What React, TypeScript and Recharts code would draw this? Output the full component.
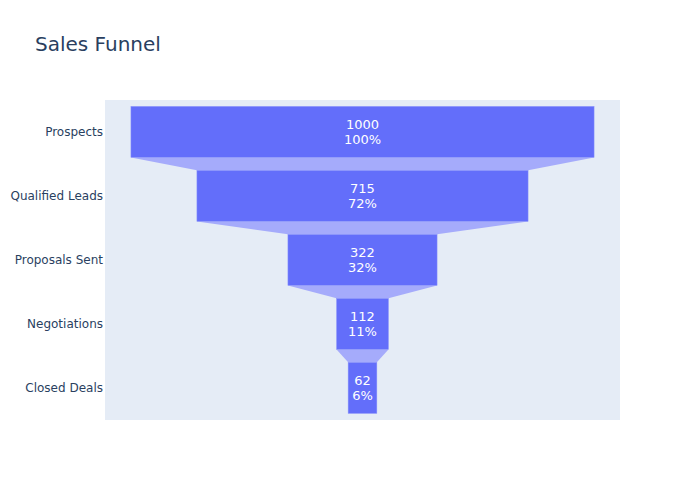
import { BarChart, Bar, XAxis, YAxis, CartesianGrid, LabelList } from 'recharts'

const stages = ['Prospects', 'Qualified Leads', 'Proposals Sent', 'Negotiations', 'Closed Deals']
const counts = [1000, 715, 322, 112, 62]

const data = stages.map((stage, i) => ({
  stage,
  value: counts[i],
  range: [-counts[i] / 2, counts[i] / 2],
  pct: Math.round((counts[i] / counts[0]) * 100) + '%',
}))

const FONT = '"DejaVu Sans", Verdana, sans-serif'

function FunnelBar(props: any) {
  const { x, y, width, height, index } = props
  const next = data[index + 1]
  let connector = null
  if (next) {
    const cur = data[index].value
    const cx = x + width / 2
    const nw = (width * next.value) / cur
    const gap = height / 4
    const top = y + height
    const pts = [
      [x, top],
      [x + width, top],
      [cx + nw / 2, top + gap],
      [cx - nw / 2, top + gap],
    ]
    connector = <polygon points={pts.map((p) => p.join(',')).join(' ')} fill="#a5abfb" />
  }
  return (
    <g>
      {connector}
      <rect x={x} y={y} width={width} height={height} fill="#636efa" stroke="#8b93fb" strokeWidth={0.5} />
    </g>
  )
}

function FunnelLabel(props: any) {
  const { x, y, width, height, index } = props
  const cx = x + width / 2
  const cy = y + height / 2
  return (
    <g>
      <text x={cx} y={cy - 3} textAnchor="middle" fill="#ffffff" fontSize={13} fontFamily={FONT}>
        {data[index].value}
      </text>
      <text x={cx} y={cy + 12} textAnchor="middle" fill="#ffffff" fontSize={13} fontFamily={FONT}>
        {data[index].pct}
      </text>
    </g>
  )
}

export default function App() {
  return (
    <div style={{ position: 'absolute', left: 0, top: 0, width: 700, height: 500, background: '#fff' }}>
      <svg width={700} height={500} style={{ position: 'absolute', left: 0, top: 0 }}>
        <text x={35} y={51} fontSize={20} fill="#2a3f5f" fontFamily={FONT}>
          Sales Funnel
        </text>
      </svg>
      <div style={{ position: 'absolute', left: 0, top: 0 }}>
        <BarChart
          width={700}
          height={500}
          data={data}
          layout="vertical"
          margin={{ top: 100, right: 80, bottom: 80, left: 0 }}
          barCategoryGap="10%"
        >
          <CartesianGrid horizontal={false} vertical={false} fill="#e5ecf6" />
          <XAxis type="number" domain={[-556, 556]} hide allowDataOverflow />
          <YAxis
            type="category"
            dataKey="stage"
            width={105}
            axisLine={false}
            tickLine={false}
            tickSize={0}
            tickMargin={2}
            tick={{ fill: '#2a3f5f', fontSize: 12, fontFamily: FONT }}
          />
          <Bar dataKey="range" isAnimationActive={false} shape={FunnelBar}>
            <LabelList dataKey="value" content={FunnelLabel} />
          </Bar>
        </BarChart>
      </div>
    </div>
  )
}
